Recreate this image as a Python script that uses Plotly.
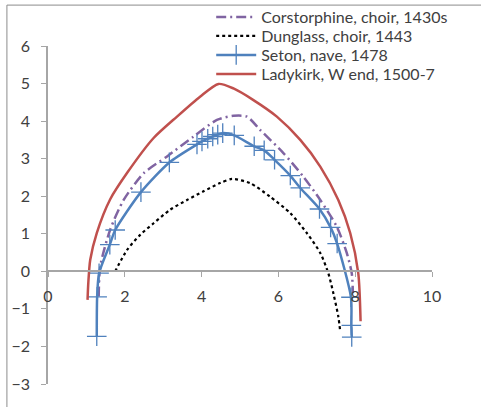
import plotly.graph_objects as go

# Corstorphine, choir, 1430s
cor_x = [1.32, 1.36, 1.62, 1.97, 2.49, 3.10, 3.79, 4.40, 4.83, 5.18, 5.52, 6.13, 6.65, 7.09, 7.52, 7.78, 7.91, 7.94]
cor_y = [-0.67, 0.13, 1.11, 1.90, 2.61, 3.06, 3.59, 4.03, 4.14, 4.12, 3.77, 3.15, 2.52, 1.90, 1.19, 0.49, -0.05, -0.58]

# Dunglass, choir, 1443
dun_x = [1.75, 2.06, 2.40, 2.75, 3.18, 3.62, 4.05, 4.48, 4.79, 5.26, 5.78, 6.31, 6.74, 7.09, 7.30, 7.43, 7.56, 7.61]
dun_y = [0.0, 0.57, 0.97, 1.28, 1.64, 1.90, 2.13, 2.35, 2.46, 2.35, 1.99, 1.55, 1.02, 0.49, -0.05, -0.58, -1.20, -1.60]

# Seton, nave, 1478
set_x = [1.27, 1.28, 1.33, 1.61, 1.75, 2.42, 3.16, 3.88, 4.01, 4.16, 4.29, 4.42, 4.55, 4.85,
         5.37, 5.63, 5.90, 6.31, 6.57, 7.07, 7.36, 7.53, 7.89, 7.90, 7.91]
set_y = [-1.73, -0.68, -0.05, 0.71, 1.10, 2.11, 2.90, 3.38, 3.46, 3.53, 3.59, 3.64, 3.68, 3.62,
         3.33, 3.22, 2.97, 2.55, 2.22, 1.66, 1.17, 0.74, -0.69, -1.44, -1.75]

# Ladykirk, W end, 1500-7
lad_x = [1.03, 1.05, 1.10, 1.27, 1.62, 2.08, 2.75, 3.36, 3.96, 4.44, 4.83, 5.35, 5.96, 6.57, 7.09, 7.56, 7.87, 8.08, 8.14]
lad_y = [-0.76, -0.30, 0.31, 1.02, 1.92, 2.65, 3.55, 4.12, 4.65, 4.99, 4.87, 4.56, 4.12, 3.50, 2.79, 1.90, 1.02, -0.05, -1.33]

names = ["Corstorphine, choir, 1430s", "Dunglass, choir, 1443", "Seton, nave, 1478", "Ladykirk, W end, 1500-7"]
x_ticks = [0, 2, 4, 6, 8, 10]
y_ticks = [-3, -2, -1, 0, 1, 2, 3, 4, 5, 6]

FONT = "Lato"
fig = go.Figure()
fig.add_trace(go.Scatter(x=cor_x, y=cor_y, mode="lines", name=names[0], legend="legend",
                         line=dict(color="#8064A2", width=2.5, dash="10px,4px,2px,4px", shape="spline", smoothing=0.7)))
fig.add_trace(go.Scatter(x=dun_x, y=dun_y, mode="lines", name=names[1], legend="legend2",
                         line=dict(color="#000000", width=2.2, dash="dot", shape="spline", smoothing=0.7)))
fig.add_trace(go.Scatter(x=set_x, y=set_y, mode="lines+markers", name=names[2], legend="legend3",
                         line=dict(color="#4F81BD", width=2.5, shape="spline", smoothing=0.7),
                         marker=dict(symbol="cross-thin", size=14, color="#4F81BD",
                                     line=dict(color="#4F81BD", width=1.3))))
fig.add_trace(go.Scatter(x=lad_x, y=lad_y, mode="lines", name=names[3], legend="legend4",
                         line=dict(color="#C0504D", width=2.5, shape="spline", smoothing=0.7)))

# outer chart border (top and left visible)
fig.add_shape(type="rect", xref="paper", yref="paper", x0=-0.107, x1=1.3, y0=-0.2, y1=1.121,
              line=dict(color="#8C8C8C", width=1), layer="above")


def leg(yc):
    return dict(x=0.425, y=yc, xanchor="left", yanchor="middle", bgcolor="rgba(0,0,0,0)",
                font=dict(family=FONT, size=16, color="#404040"), itemwidth=40)


fig.update_layout(
    width=481, height=407,
    margin=dict(l=48, r=49, t=46, b=23, autoexpand=False),
    paper_bgcolor="white", plot_bgcolor="white",
    font=dict(family=FONT, size=15, color="#404040"),
    showlegend=True,
    legend=leg((384 - 17) / 338),
    legend2=leg((384 - 36) / 338),
    legend3=leg((384 - 55) / 338),
    legend4=leg((384 - 74) / 338),
    xaxis=dict(range=[0, 10], tickvals=x_ticks, showgrid=False, zeroline=False,
               showline=True, linecolor="#A6A6A6", linewidth=1.5,
               anchor="free", position=1/3, ticks="outside", ticklen=5, tickcolor="#A6A6A6",
               tickfont=dict(family=FONT, size=16, color="#404040"), ticklabelstandoff=6),
    yaxis=dict(range=[-3, 6], tickvals=y_ticks, showgrid=False, zeroline=False,
               showline=True, linecolor="#A6A6A6", linewidth=1.5,
               ticks="outside", ticklen=5, tickcolor="#A6A6A6",
               tickfont=dict(family=FONT, size=16, color="#404040"), ticklabelstandoff=8),
)

fig.write_html("out.html", config={"displayModeBar": False},
               post_script="document.body.style.margin='0';")
